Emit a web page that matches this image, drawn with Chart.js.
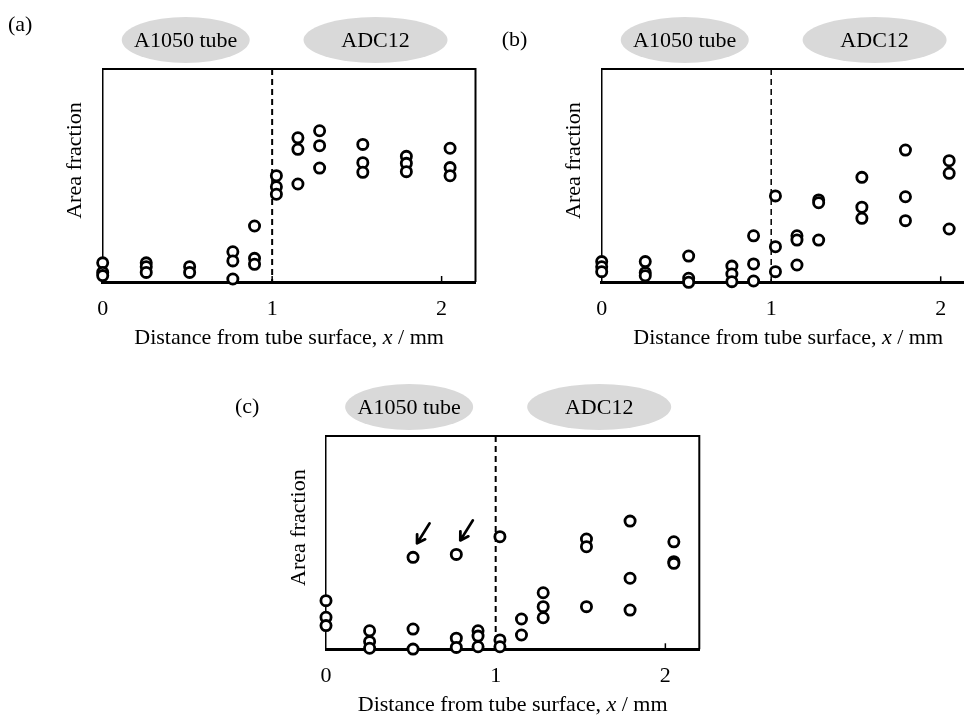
<!DOCTYPE html>
<html>
<head>
<meta charset="utf-8">
<script src="https://cdn.jsdelivr.net/npm/chart.js@4.4.1/dist/chart.umd.min.js"></script>
<style>
    html, body { margin: 0; padding: 0; background: #fff; }
    body { width: 964px; height: 715px; position: relative; overflow: hidden; }
    .painel { position: absolute; }
    canvas { display: block; }
</style>
</head>
<body>
<div class="painel" style="left:0px;top:0px"><canvas id="chart-a" width="490" height="360"></canvas></div>
<div class="painel" style="left:490px;top:0px"><canvas id="chart-b" width="500" height="360"></canvas></div>
<div class="painel" style="left:200px;top:360px"><canvas id="chart-c" width="520" height="355"></canvas></div>
<script>
// ===== DADOS =====

const FONTE = '"Liberation Serif", "Times New Roman", serif';

// Posições de medição (mm a partir da superfície do tubo)
const posicoes = [0, 0.257, 0.513, 0.768, 0.896, 1.025, 1.152, 1.28, 1.535, 1.792, 2.05];

// Fração de área (escala relativa 0-1, sem rótulos no eixo y)
const fracaoA = [
    [0.09, 0.045, 0.03],
    [0.09, 0.072, 0.045],
    [0.072, 0.045],
    [0.142, 0.099, 0.014],
    [0.263, 0.111, 0.083],
    [0.499, 0.447, 0.412],
    [0.677, 0.623, 0.46],
    [0.71, 0.64, 0.535],
    [0.646, 0.56, 0.515],
    [0.59, 0.557, 0.518],
    [0.628, 0.537, 0.499]
];

const fracaoB = [
    [0.097, 0.073, 0.05],
    [0.097, 0.045, 0.031],
    [0.123, 0.019, 0.0],
    [0.076, 0.039, 0.003],
    [0.218, 0.086, 0.006],
    [0.405, 0.167, 0.05],
    [0.218, 0.198, 0.081],
    [0.386, 0.373, 0.198],
    [0.492, 0.352, 0.3],
    [0.62, 0.401, 0.289],
    [0.57, 0.511, 0.25]
];

const fracaoC = [
    [0.228, 0.15, 0.111],
    [0.087, 0.036, 0.005],
    [0.431, 0.095, 0.001],
    [0.445, 0.052, 0.009],
    [0.087, 0.062, 0.012],
    [0.528, 0.044, 0.012],
    [0.142, 0.067],
    [0.265, 0.2, 0.148],
    [0.517, 0.481, 0.2],
    [0.601, 0.333, 0.184],
    [0.504, 0.411, 0.403]
];

const ticksX = [0, 1, 2];
const limiteX = 2.2;
const fronteira = 1;                       // interface tubo / ADC12
const regioes = ['A1050 tube', 'ADC12'];
const centrosRegioes = [0.49, 1.61];
const raiosRegioes = [64, 72];
const setasC = [[0.513, 0.431], [0.768, 0.445]];  // pontos indicados por setas em (c)

// ===== DESENHO =====

function paraPontos(valores) {
    const pts = [];
    posicoes.forEach((x, i) => {
        valores[i].forEach(y => pts.push({ x, y }));
    });
    return pts;
}

const decoracao = {
    id: 'decoracao',
    beforeDatasetsDraw(chart, args, opts) {
        const { ctx, chartArea: a, scales: { x } } = chart;
        ctx.save();
        ctx.strokeStyle = '#000';

        // Moldura superior e direita
        ctx.lineWidth = 2;
        ctx.beginPath();
        ctx.moveTo(a.left, a.top);
        ctx.lineTo(a.right, a.top);
        ctx.lineTo(a.right, a.bottom);
        ctx.stroke();

        // Marcas pequenas para dentro
        ctx.lineWidth = 1.5;
        ticksX.slice(1).forEach(v => {
            const px = x.getPixelForValue(v);
            ctx.beginPath();
            ctx.moveTo(px, a.bottom);
            ctx.lineTo(px, a.bottom - 6);
            ctx.stroke();
        });

        // Linha tracejada da interface
        ctx.setLineDash([6, 4]);
        ctx.lineWidth = opts.larguraTracejado;
        const fx = x.getPixelForValue(fronteira);
        ctx.beginPath();
        ctx.moveTo(fx, a.top);
        ctx.lineTo(fx, a.bottom);
        ctx.stroke();
        ctx.restore();
    },
    afterDraw(chart, args, opts) {
        const { ctx, chartArea: a, scales: { x, y } } = chart;
        ctx.save();
        ctx.fillStyle = '#000';
        ctx.font = `22px ${FONTE}`;

        // Elipses com nomes das regiões
        regioes.forEach((nome, i) => {
            const cx = x.getPixelForValue(centrosRegioes[i]);
            const cy = a.top - 29;
            ctx.fillStyle = '#d9d9d9';
            ctx.beginPath();
            ctx.ellipse(cx, cy, raiosRegioes[i], 23, 0, 0, Math.PI * 2);
            ctx.fill();
            ctx.fillStyle = '#000';
            ctx.textAlign = 'center';
            ctx.textBaseline = 'middle';
            ctx.fillText(nome, cx, cy + 1);
        });

        // Letra do painel
        ctx.textAlign = 'left';
        ctx.fillText(opts.letra, opts.letraX, opts.letraY);

        // Título do eixo y
        ctx.save();
        ctx.translate(a.left - 27, (a.top + a.bottom) / 2 - 15);
        ctx.rotate(-Math.PI / 2);
        ctx.textAlign = 'center';
        ctx.fillText('Area fraction', 0, 0);
        ctx.restore();

        // Título do eixo x (x em itálico)
        const partes = [
            ['Distance from tube surface, ', ''],
            ['x', 'italic '],
            [' / mm', '']
        ];
        let total = 0;
        partes.forEach(([t, estilo]) => {
            ctx.font = `${estilo}22px ${FONTE}`;
            total += ctx.measureText(t).width;
        });
        let tx = (a.left + a.right) / 2 - total / 2;
        const ty = a.bottom + 56;
        ctx.textAlign = 'left';
        partes.forEach(([t, estilo]) => {
            ctx.font = `${estilo}22px ${FONTE}`;
            ctx.fillText(t, tx, ty);
            tx += ctx.measureText(t).width;
        });

        // Setas
        ctx.strokeStyle = '#000';
        ctx.lineWidth = 2.8;
        ctx.lineCap = 'round';
        ctx.lineJoin = 'round';
        (opts.setas || []).forEach(([xv, yv]) => {
            const px = x.getPixelForValue(xv) + 4;
            const py = y.getPixelForValue(yv) - 14;
            const ox = px + 12.5, oy = py - 20;
            const ang = Math.atan2(py - oy, px - ox);
            ctx.beginPath();
            ctx.moveTo(ox, oy);
            ctx.lineTo(px, py);
            ctx.moveTo(px - 9 * Math.cos(ang - 0.55), py - 9 * Math.sin(ang - 0.55));
            ctx.lineTo(px, py);
            ctx.lineTo(px - 9 * Math.cos(ang + 0.55), py - 9 * Math.sin(ang + 0.55));
            ctx.stroke();
        });
        ctx.restore();
    }
};

function criarPainel(id, valores, area, extras) {
    const canvas = document.getElementById(id);
    return new Chart(canvas, {
        type: 'scatter',
        data: {
            datasets: [{
                data: paraPontos(valores),
                pointRadius: 5.1,
                pointHoverRadius: 5.1,
                pointBorderWidth: 2.8,
                borderColor: '#000',
                backgroundColor: '#fff',
                clip: false
            }]
        },
        options: {
            responsive: false,
            animation: false,
            events: [],
            layout: {
                autoPadding: false,
                padding: { top: area.top, left: 0, right: canvas.width - area.right, bottom: 0 }
            },
            plugins: {
                legend: { display: false },
                tooltip: { enabled: false },
                decoracao: extras
            },
            scales: {
                x: {
                    type: 'linear',
                    min: 0,
                    max: limiteX,
                    afterBuildTicks: s => { s.ticks = ticksX.map(v => ({ value: v })); },
                    afterFit: s => { s.height = canvas.height - area.bottom; },
                    grid: { display: false, drawTicks: false },
                    border: { display: true, color: '#000', width: 3 },
                    ticks: {
                        color: '#000',
                        font: { family: FONTE, size: 22 },
                        padding: 14,
                        maxRotation: 0
                    }
                },
                y: {
                    min: 0,
                    max: 1,
                    afterFit: s => { s.width = area.left; },
                    grid: { display: false, drawTicks: false },
                    border: { display: true, color: '#000', width: 1.5 },
                    ticks: { display: false }
                }
            }
        },
        plugins: [decoracao]
    });
}

criarPainel('chart-a', fracaoA,
    { left: 102.7, top: 69, right: 475.5, bottom: 282 },
    { letra: '(a)', letraX: 8, letraY: 25, larguraTracejado: 2 });

criarPainel('chart-b', fracaoB,
    { left: 111.7, top: 69, right: 484.6, bottom: 282.3 },
    { letra: '(b)', letraX: 11.7, letraY: 40, larguraTracejado: 1.5 });

criarPainel('chart-c', fracaoC,
    { left: 126, top: 76, right: 499.3, bottom: 289.3 },
    { letra: '(c)', letraX: 35, letraY: 47, larguraTracejado: 2, setas: setasC });
</script>
</body>
</html>
